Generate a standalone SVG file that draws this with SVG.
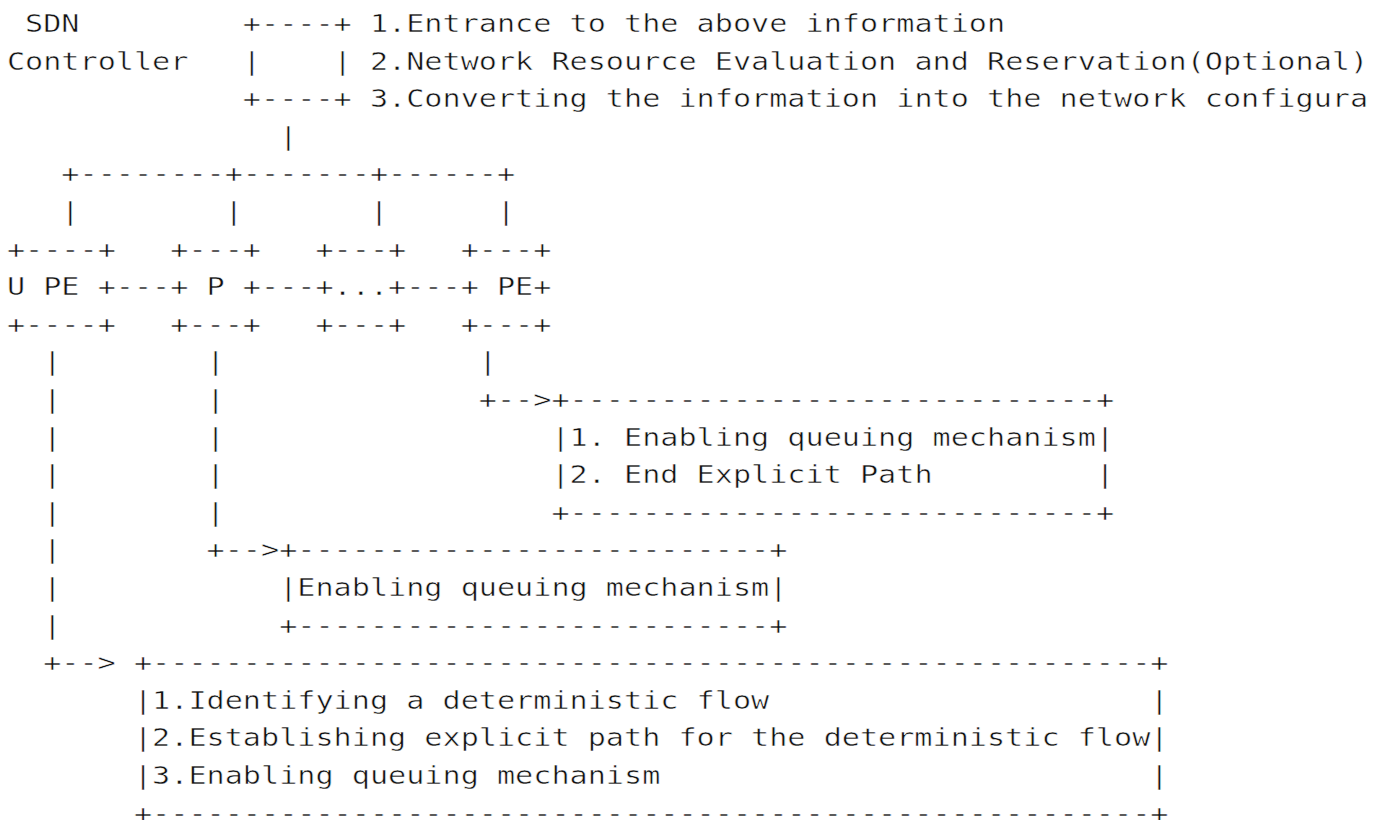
<svg xmlns="http://www.w3.org/2000/svg" width="1376" height="820" viewBox="0 0 1376 820">
  <style>
    text {
      font-family: "DejaVu Sans Mono", "Liberation Mono", monospace;
      font-size: 25.5px;
      fill: #111111;
      stroke: #ffffff;
      stroke-width: 0.5px;
      white-space: pre;
    }
  </style>
  <!-- Character grid: column c starts at x = 6.9 + 18.15*c, row r baseline at y = 32 + 37.6*r -->
  <rect x="0" y="0" width="1376" height="820" fill="#ffffff"/>

  <g id="sdn-controller">
    <text x="25.05" y="32" textLength="54.45" lengthAdjust="spacingAndGlyphs">SDN</text>
    <text x="6.9" y="69.6" textLength="181.5" lengthAdjust="spacingAndGlyphs">Controller</text>
    <text x="242.85" y="32" textLength="108.9" lengthAdjust="spacingAndGlyphs">+----+</text>
    <text x="242.85" y="69.6" textLength="108.9" lengthAdjust="spacingAndGlyphs">|    |</text>
    <text x="242.85" y="107.2" textLength="108.9" lengthAdjust="spacingAndGlyphs">+----+</text>
  </g>

  <g id="controller-functions">
    <text x="369.9" y="32" textLength="635.25" lengthAdjust="spacingAndGlyphs">1.Entrance to the above information</text>
    <text x="369.9" y="69.6" textLength="998.25" lengthAdjust="spacingAndGlyphs">2.Network Resource Evaluation and Reservation(Optional)</text>
    <text x="369.9" y="107.2" textLength="998.25" lengthAdjust="spacingAndGlyphs">3.Converting the information into the network configura</text>
  </g>

  <g id="node-u-pe">
    <text x="6.9" y="257.6" textLength="108.9" lengthAdjust="spacingAndGlyphs">+----+</text>
    <text x="6.9" y="295.2" textLength="72.6" lengthAdjust="spacingAndGlyphs">U PE</text>
    <text x="6.9" y="332.8" textLength="108.9" lengthAdjust="spacingAndGlyphs">+----+</text>
  </g>

  <g id="node-p">
    <text x="170.25" y="257.6" textLength="90.75" lengthAdjust="spacingAndGlyphs">+---+</text>
    <text x="206.55" y="295.2" textLength="18.15" lengthAdjust="spacingAndGlyphs">P</text>
    <text x="170.25" y="332.8" textLength="90.75" lengthAdjust="spacingAndGlyphs">+---+</text>
  </g>

  <g id="node-p-more">
    <text x="315.45" y="257.6" textLength="90.75" lengthAdjust="spacingAndGlyphs">+---+</text>
    <text x="333.6" y="295.2" textLength="54.45" lengthAdjust="spacingAndGlyphs">...</text>
    <text x="315.45" y="332.8" textLength="90.75" lengthAdjust="spacingAndGlyphs">+---+</text>
  </g>

  <g id="node-pe">
    <text x="460.65" y="257.6" textLength="90.75" lengthAdjust="spacingAndGlyphs">+---+</text>
    <text x="496.95" y="295.2" textLength="54.45" lengthAdjust="spacingAndGlyphs">PE+</text>
    <text x="460.65" y="332.8" textLength="90.75" lengthAdjust="spacingAndGlyphs">+---+</text>
  </g>

  <g id="box-egress-pe">
    <text x="551.4" y="408" textLength="562.65" lengthAdjust="spacingAndGlyphs">+-----------------------------+</text>
    <text x="551.4" y="445.6" textLength="562.65" lengthAdjust="spacingAndGlyphs">|1. Enabling queuing mechanism|</text>
    <text x="551.4" y="483.2" textLength="562.65" lengthAdjust="spacingAndGlyphs">|2. End Explicit Path         |</text>
    <text x="551.4" y="520.8" textLength="562.65" lengthAdjust="spacingAndGlyphs">+-----------------------------+</text>
  </g>

  <g id="box-transit-p">
    <text x="279.15" y="558.4" textLength="508.2" lengthAdjust="spacingAndGlyphs">+--------------------------+</text>
    <text x="279.15" y="596" textLength="508.2" lengthAdjust="spacingAndGlyphs">|Enabling queuing mechanism|</text>
    <text x="279.15" y="633.6" textLength="508.2" lengthAdjust="spacingAndGlyphs">+--------------------------+</text>
  </g>

  <g id="box-ingress-pe">
    <text x="133.95" y="671.2" textLength="1034.55" lengthAdjust="spacingAndGlyphs">+-------------------------------------------------------+</text>
    <text x="133.95" y="708.8" textLength="1034.55" lengthAdjust="spacingAndGlyphs">|1.Identifying a deterministic flow                     |</text>
    <text x="133.95" y="746.4" textLength="1034.55" lengthAdjust="spacingAndGlyphs">|2.Establishing explicit path for the deterministic flow|</text>
    <text x="133.95" y="784" textLength="1034.55" lengthAdjust="spacingAndGlyphs">|3.Enabling queuing mechanism                           |</text>
    <text x="133.95" y="821.6" textLength="1034.55" lengthAdjust="spacingAndGlyphs">+-------------------------------------------------------+</text>
  </g>

  <g id="connectors">
    <!-- controller down to the bus -->
    <text x="279.15" y="144.8" textLength="18.15" lengthAdjust="spacingAndGlyphs">|</text>
    <text x="61.35" y="182.4" textLength="453.75" lengthAdjust="spacingAndGlyphs">+--------+-------+------+</text>
    <text x="61.35" y="220" textLength="18.15" lengthAdjust="spacingAndGlyphs">|</text>
    <text x="224.7" y="220" textLength="18.15" lengthAdjust="spacingAndGlyphs">|</text>
    <text x="369.9" y="220" textLength="18.15" lengthAdjust="spacingAndGlyphs">|</text>
    <text x="496.95" y="220" textLength="18.15" lengthAdjust="spacingAndGlyphs">|</text>
    <!-- links between forwarding nodes -->
    <text x="97.65" y="295.2" textLength="90.75" lengthAdjust="spacingAndGlyphs">+---+</text>
    <text x="242.85" y="295.2" textLength="90.75" lengthAdjust="spacingAndGlyphs">+---+</text>
    <text x="388.05" y="295.2" textLength="90.75" lengthAdjust="spacingAndGlyphs">+---+</text>
    <!-- egress PE to its task box -->
    <text x="478.8" y="370.4" textLength="18.15" lengthAdjust="spacingAndGlyphs">|</text>
    <text x="478.8" y="408" textLength="72.6" lengthAdjust="spacingAndGlyphs">+--&gt;</text>
    <!-- transit P to its task box -->
    <text x="206.55" y="370.4" textLength="18.15" lengthAdjust="spacingAndGlyphs">|</text>
    <text x="206.55" y="408" textLength="18.15" lengthAdjust="spacingAndGlyphs">|</text>
    <text x="206.55" y="445.6" textLength="18.15" lengthAdjust="spacingAndGlyphs">|</text>
    <text x="206.55" y="483.2" textLength="18.15" lengthAdjust="spacingAndGlyphs">|</text>
    <text x="206.55" y="520.8" textLength="18.15" lengthAdjust="spacingAndGlyphs">|</text>
    <text x="206.55" y="558.4" textLength="72.6" lengthAdjust="spacingAndGlyphs">+--&gt;</text>
    <!-- ingress PE to its task box -->
    <text x="43.2" y="370.4" textLength="18.15" lengthAdjust="spacingAndGlyphs">|</text>
    <text x="43.2" y="408" textLength="18.15" lengthAdjust="spacingAndGlyphs">|</text>
    <text x="43.2" y="445.6" textLength="18.15" lengthAdjust="spacingAndGlyphs">|</text>
    <text x="43.2" y="483.2" textLength="18.15" lengthAdjust="spacingAndGlyphs">|</text>
    <text x="43.2" y="520.8" textLength="18.15" lengthAdjust="spacingAndGlyphs">|</text>
    <text x="43.2" y="558.4" textLength="18.15" lengthAdjust="spacingAndGlyphs">|</text>
    <text x="43.2" y="596" textLength="18.15" lengthAdjust="spacingAndGlyphs">|</text>
    <text x="43.2" y="633.6" textLength="18.15" lengthAdjust="spacingAndGlyphs">|</text>
    <text x="43.2" y="671.2" textLength="72.6" lengthAdjust="spacingAndGlyphs">+--&gt;</text>
  </g>
</svg>
